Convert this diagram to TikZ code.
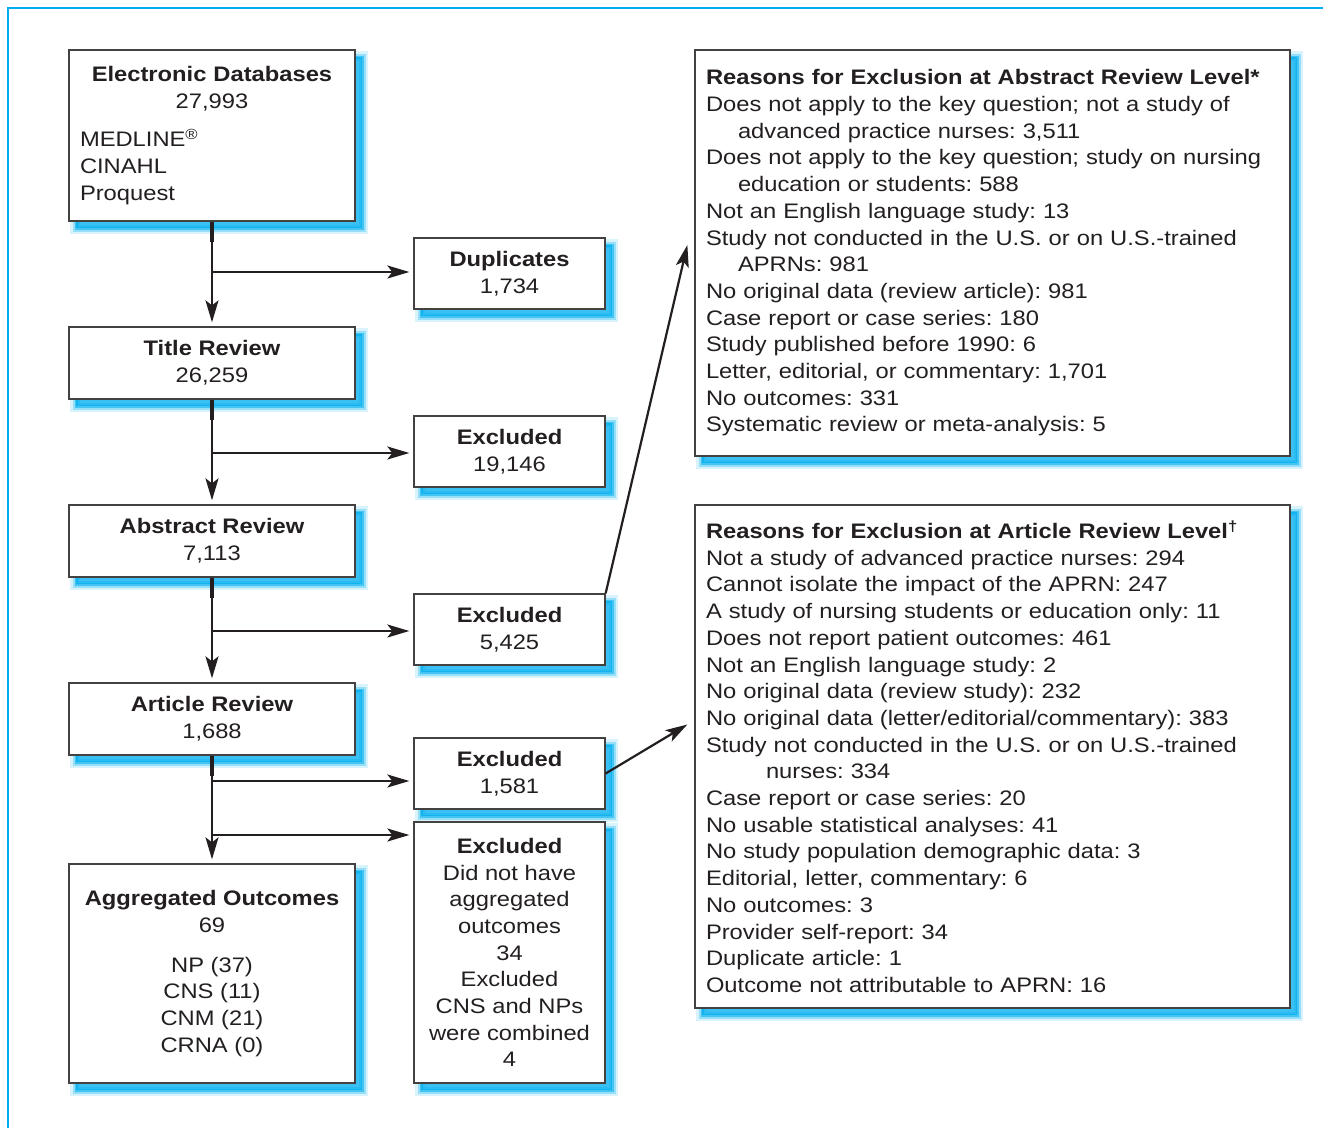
\documentclass[tikz,border=0pt]{standalone}
\usepackage{fontspec}
\setmainfont{Liberation Sans}[FakeStretch=1.13]
\usetikzlibrary{arrows.meta,shadows,calc}
\definecolor{frameCyan}{RGB}{0,174,239}
\definecolor{ink}{RGB}{35,31,32}
\newcommand{\fsz}{\fontsize{21pt}{26.7pt}\selectfont\frenchspacing}
\frenchspacing
\begin{document}
\begin{tikzpicture}[x=1pt,y=-1pt,
  boxnode/.style={draw=ink!85, line width=1.3pt, fill=white, text=ink, font=\fsz,
    inner xsep=11pt, inner ysep=0pt, align=center,
    general shadow={fill=frameCyan, draw=frameCyan, line width=12pt, opacity=0.15,
      shadow xshift=7pt, shadow yshift=-7pt},
    general shadow={fill=frameCyan, draw=frameCyan, line width=7pt, opacity=0.3,
      shadow xshift=7pt, shadow yshift=-7pt},
    general shadow={fill=frameCyan, draw=frameCyan, line width=3pt, opacity=0.55,
      shadow xshift=7pt, shadow yshift=-7pt}},
  leftbox/.style={boxnode, minimum width=286pt, minimum height=72pt},
  midbox/.style={boxnode, minimum width=191pt, minimum height=71pt},
  reasonbox/.style={boxnode, align=left, text width=573pt, minimum width=595pt},
  flow/.style={draw=ink, line width=2.2pt, shorten >=4pt,
    -{Stealth[length=22pt,width=13pt,inset=5pt]}},
  stub/.style={draw=ink, line width=3.6pt}
]
\useasboundingbox (0,0) rectangle (1323,1128);
\draw[frameCyan, line width=1.5pt] (8,1128) -- (8,8) -- (1323,8);

% left column
\node[leftbox, align=left, text width=264pt, minimum height=171pt] (ed) at (212,135.5)
  {\makebox[264pt]{\textbf{Electronic Databases}}\\
   \makebox[264pt]{27,993}\\[12pt]
   MEDLINE\textsuperscript{\textregistered}\\
   CINAHL\\
   Proquest};
\node[leftbox] (tr) at (212,363) {\textbf{Title Review}\\26,259};
\node[leftbox] (ar) at (212,541) {\textbf{Abstract Review}\\7,113};
\node[leftbox] (art) at (212,719) {\textbf{Article Review}\\1,688};
\node[leftbox, minimum height=219pt] (ag) at (212,973.5)
  {\textbf{Aggregated Outcomes}\\69\\[13pt]NP (37)\\CNS (11)\\CNM (21)\\CRNA (0)};

% middle column
\node[midbox] (dup) at (509.5,273.5) {\textbf{Duplicates}\\1,734};
\node[midbox] (ex1) at (509.5,451.5) {\textbf{Excluded}\\19,146};
\node[midbox] (ex2) at (509.5,629.5) {\textbf{Excluded}\\5,425};
\node[midbox] (ex3) at (509.5,773.5) {\textbf{Excluded}\\1,581};
\node[midbox, minimum height=261pt] (ex4) at (509.5,952.5)
  {\textbf{Excluded}\\Did not have\\aggregated\\outcomes\\34\\Excluded\\CNS and NPs\\were combined\\4};

% right column
\node[reasonbox, minimum height=406pt] (r1) at (992.5,253)
  {\textbf{Reasons for Exclusion at Abstract Review Level*}\\
   Does not apply to the key question; not a study of\\
   \hspace*{32pt}advanced practice nurses: 3,511\\
   Does not apply to the key question; study on nursing\\
   \hspace*{32pt}education or students: 588\\
   Not an English language study: 13\\
   Study not conducted in the U.S. or on U.S.-trained\\
   \hspace*{32pt}APRNs: 981\\
   No original data (review article): 981\\
   Case report or case series: 180\\
   Study published before 1990: 6\\
   Letter, editorial, or commentary: 1,701\\
   No outcomes: 331\\
   Systematic review or meta-analysis: 5};
\node[reasonbox, minimum height=503pt] (r2) at (992.5,756.5)
  {\textbf{Reasons for Exclusion at Article Review Level\textsuperscript{\textdagger}}\\
   Not a study of advanced practice nurses: 294\\
   Cannot isolate the impact of the APRN: 247\\
   A study of nursing students or education only: 11\\
   Does not report patient outcomes: 461\\
   Not an English language study: 2\\
   No original data (review study): 232\\
   No original data (letter/editorial/commentary): 383\\
   Study not conducted in the U.S. or on U.S.-trained\\
   \hspace*{60pt}nurses: 334\\
   Case report or case series: 20\\
   No usable statistical analyses: 41\\
   No study population demographic data: 3\\
   Editorial, letter, commentary: 6\\
   No outcomes: 3\\
   Provider self-report: 34\\
   Duplicate article: 1\\
   Outcome not attributable to APRN: 16};

% branch points
\coordinate (b1) at (212,272);
\coordinate (b2) at (212,453);
\coordinate (b3) at (212,631);
\coordinate (b4) at (212,781);
\coordinate (b5) at (212,835);

% connectors
\draw[flow] (ed.south) -- (tr.north);
\draw[flow] (b1) -- (b1 -| dup.west);
\draw[flow] (tr.south) -- (ar.north);
\draw[flow] (b2) -- (b2 -| ex1.west);
\draw[flow] (ar.south) -- (art.north);
\draw[flow] (b3) -- (b3 -| ex2.west);
\draw[flow] (art.south) -- (ag.north);
\draw[flow] (b4) -- (b4 -| ex3.west);
\draw[flow] (b5) -- (b5 -| ex4.west);
\draw[stub] (ed.south) -- ++(0,20);
\draw[stub] (tr.south) -- ++(0,20);
\draw[stub] (ar.south) -- ++(0,20);
\draw[stub] (art.south) -- ++(0,20);

\draw[flow, shorten >=0pt] (ex2.north east) -- ([xshift=-7pt,yshift=8pt]r1.west);
\draw[flow, shorten >=0pt] (ex3.east) -- ([xshift=-7pt,yshift=32pt]r2.west);
\end{tikzpicture}
\end{document}
